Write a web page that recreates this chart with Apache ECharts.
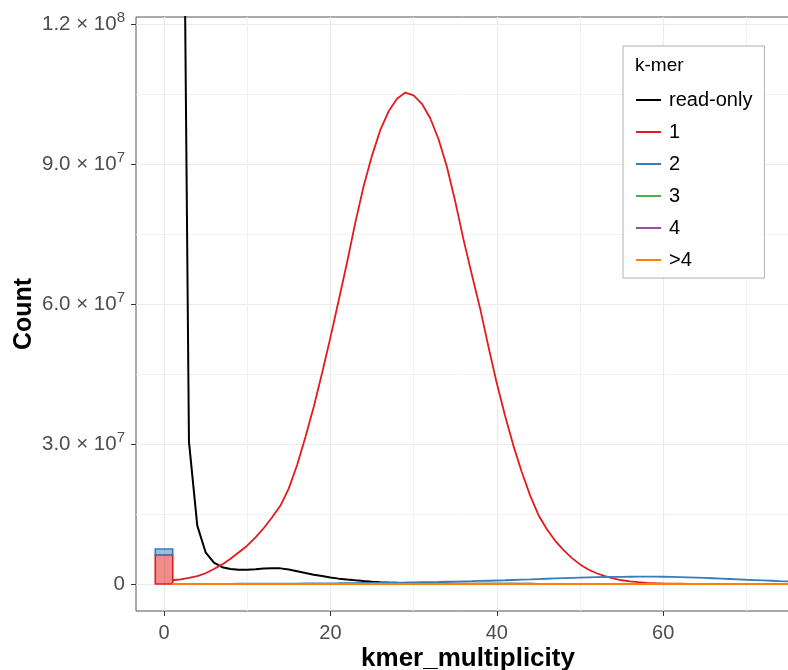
<!DOCTYPE html>
<html>
<head>
<meta charset="utf-8">
<title>k-mer spectrum</title>
<script src="https://cdn.jsdelivr.net/npm/echarts@6/dist/echarts.min.js"></script>
<style>
  html, body { margin: 0; padding: 0; background: #ffffff; }
  #chart { width: 788px; height: 670px; }
</style>
</head>
<body>
<div id="chart"></div>
<script>
// k-mer multiplicity (x) for the copy-number curves: 1 .. 77
const kmerMultiplicity = Array.from({ length: 77 }, (_, i) => i + 1);

// Counts, in millions of k-mers, one value per multiplicity
const readOnly = [
  600, 230, 30.5, 12.5, 6.8, 4.6, 3.6, 3.2, 3.05, 3.05,
  3.15, 3.3, 3.4, 3.35, 3.1, 2.75, 2.35, 2.0, 1.7, 1.4,
  1.15, 0.95, 0.78, 0.62, 0.5, 0.4, 0.32, 0.26, 0.21, 0.17,
  0.14, 0.12, 0.1, 0.09, 0.08, 0.07, 0.06, 0.05, 0.05, 0.04,
  0.04, 0.03, 0.03, 0.03, 0.02, 0.02, 0.02, 0.02, 0.02, 0.01,
  0.01, 0.01, 0.01, 0.01, 0.01, 0.01, 0.01, 0.01, 0.01, 0.01,
  0.01, 0.01, 0.01, 0.01, 0.01, 0.01, 0.01, 0.01, 0.01, 0.01,
  0.01, 0.01, 0.01, 0.01, 0.01, 0.01, 0.01
];
const copy1 = [
  0.8, 1.0, 1.3, 1.7, 2.3, 3.2, 4.2, 5.4, 6.8, 8.2,
  10.0, 12.0, 14.3, 16.8, 20.5, 25.5, 31.5, 38.0, 45.2, 52.8,
  60.8, 68.9, 77.5, 85.3, 91.8, 97.3, 101.3, 104.0, 105.3, 104.7,
  102.9, 99.8, 95.3, 89.4, 82.0, 73.8, 66.3, 59.0, 50.8, 43.0,
  36.0, 29.6, 24.0, 19.0, 14.8, 11.8, 9.3, 7.3, 5.6, 4.2,
  3.1, 2.3, 1.7, 1.2, 0.8, 0.55, 0.38, 0.26, 0.18, 0.12,
  0.08, 0.06, 0.04, 0.04, 0.03, 0.03, 0.03, 0.02, 0.02, 0.02,
  0.02, 0.02, 0.02, 0.02, 0.02, 0.02, 0.02
];
const copy2 = [
  0.02, 0.02, 0.02, 0.03, 0.03, 0.03, 0.04, 0.04, 0.05, 0.05,
  0.06, 0.06, 0.07, 0.08, 0.09, 0.1, 0.11, 0.12, 0.13, 0.15,
  0.16, 0.18, 0.2, 0.22, 0.24, 0.26, 0.28, 0.3, 0.32, 0.35,
  0.38, 0.41, 0.44, 0.48, 0.52, 0.56, 0.6, 0.65, 0.7, 0.75,
  0.8, 0.86, 0.92, 0.98, 1.05, 1.12, 1.19, 1.26, 1.32, 1.38,
  1.42, 1.46, 1.5, 1.52, 1.54, 1.55, 1.56, 1.56, 1.56, 1.55,
  1.53, 1.49, 1.44, 1.38, 1.31, 1.23, 1.15, 1.07, 0.99, 0.91,
  0.84, 0.77, 0.7, 0.62, 0.55, 0.48, 0.42
];
const copy3 = [
  0, 0, 0, 0, 0, 0, 0, 0, 0, 0, 0, 0, 0, 0, 0, 0, 0, 0, 0, 0,
  0, 0, 0, 0, 0, 0, 0, 0, 0, 0, 0, 0, 0, 0, 0, 0, 0, 0, 0, 0,
  0, 0, 0, 0, 0, 0, 0, 0, 0, 0, 0, 0, 0, 0, 0, 0, 0, 0, 0, 0,
  0, 0, 0, 0, 0, 0, 0, 0, 0, 0, 0, 0, 0, 0, 0, 0, 0
];
const copy4 = [
  0, 0, 0, 0, 0, 0, 0, 0, 0, 0, 0, 0, 0, 0, 0, 0, 0, 0, 0, 0,
  0, 0, 0, 0, 0, 0, 0, 0, 0, 0, 0, 0, 0, 0, 0, 0, 0, 0, 0, 0,
  0, 0, 0, 0, 0, 0, 0, 0, 0, 0, 0, 0, 0, 0, 0, 0, 0, 0, 0, 0,
  0, 0, 0, 0, 0, 0, 0, 0, 0, 0, 0, 0, 0, 0, 0, 0, 0
];
const copyOver4 = [
  0, 0, 0, 0, 0, 0, 0, 0, 0, 0, 0, 0, 0, 0, 0, 0, 0, 0, 0, 0,
  0, 0, 0, 0, 0, 0, 0, 0, 0, 0, 0, 0, 0, 0, 0, 0, 0, 0, 0, 0,
  0, 0, 0, 0, 0, 0, 0, 0, 0, 0, 0, 0, 0, 0, 0, 0, 0, 0, 0, 0,
  0, 0, 0, 0, 0, 0, 0, 0, 0, 0, 0, 0, 0, 0, 0, 0, 0
];

// Assembly-only k-mers, stacked at multiplicity 0 (millions)
const asmOnlyX = [0];
const asmOnlyCopy1 = [6.2];
const asmOnlyCopy2 = [1.3];

// Legend entries and axis ticks
const seriesNames = ['read-only', '1', '2', '3', '4', '>4'];
const xTickValues = [0, 20, 40, 60];
const xMinorValues = [10, 30, 50, 70];
const yTickValues = [0, 30, 60, 90, 120];
const yTickMantissa = ['0', '3.0', '6.0', '9.0', '1.2'];
const yTickExponent = ['', '7', '7', '7', '8'];
const yMinorValues = [15, 45, 75, 105];

const palette = ['#000000', '#E41A1C', '#377EB8', '#4DAF4A', '#984EA3', '#FF7F00'];
const FONT = '"Liberation Sans", Arial, Helvetica, sans-serif';
const BAR_WIDTH = 2.1; // in multiplicity units

const curveValues = [readOnly, copy1, copy2, copy3, copy4, copyOver4];

const lineSeries = seriesNames.map((name, i) => ({
  name: name,
  type: 'line',
  data: kmerMultiplicity.map((x, j) => [x, curveValues[i][j]]),
  showSymbol: false,
  symbol: 'none',
  clip: true,
  color: palette[i],
  lineStyle: { color: palette[i], width: i === 0 ? 2 : 1.8 },
  z: 3 + i
}));

function barSeries(name, rows, fill, stroke) {
  return {
    name: name,
    type: 'custom',
    data: rows,
    encode: { x: 0, y: [1, 2] },
    z: 2,
    renderItem: function (params, api) {
      const x = api.value(0);
      const lo = api.value(1);
      const hi = api.value(2);
      const p0 = api.coord([x - BAR_WIDTH / 2, hi]);
      const p1 = api.coord([x + BAR_WIDTH / 2, lo]);
      return {
        type: 'rect',
        shape: { x: p0[0], y: p0[1], width: p1[0] - p0[0], height: p1[1] - p0[1] },
        style: { fill: fill, stroke: stroke, lineWidth: 1.6 }
      };
    }
  };
}

const asmRows1 = asmOnlyX.map((x, i) => [x, 0, asmOnlyCopy1[i]]);
const asmRows2 = asmOnlyX.map((x, i) => [x, asmOnlyCopy1[i], asmOnlyCopy1[i] + asmOnlyCopy2[i]]);

const chart = echarts.init(document.getElementById('chart'), null, { renderer: 'canvas' });

chart.setOption({
  animation: false,
  backgroundColor: '#ffffff',
  textStyle: { fontFamily: FONT },
  title: {
    text: 'k-mer',
    left: 635,
    top: 56,
    textStyle: { fontFamily: FONT, fontSize: 19, fontWeight: 'normal', color: '#000000' },
    padding: 0,
    z: 20
  },
  legend: {
    data: seriesNames,
    orient: 'vertical',
    left: 623,
    top: 46,
    padding: [44, 12, 8, 13],
    itemWidth: 25,
    itemHeight: 2,
    itemGap: 12,
    icon: 'rect',
    backgroundColor: '#ffffff',
    borderColor: '#b0b0b0',
    borderWidth: 1,
    borderRadius: 0,
    selectedMode: false,
    textStyle: { fontFamily: FONT, fontSize: 20, lineHeight: 20, color: '#000000', padding: [0, 0, 0, 3] },
    z: 10
  },
  grid: {
    left: 136,
    right: -12,
    top: 17,
    bottom: 59,
    containLabel: false,
    outerBoundsMode: 'none',
    show: true,
    borderColor: '#555555',
    borderWidth: 1,
    backgroundColor: 'transparent'
  },
  xAxis: [
    {
      type: 'value',
      min: -3.365,
      max: 76.44,
      axisLine: { show: false, onZero: false },
      axisTick: { show: true, customValues: xTickValues, length: 5, lineStyle: { color: '#333333', width: 1 } },
      axisLabel: {
        customValues: xTickValues,
        margin: 12,
        fontSize: 20,
        color: '#4D4D4D',
        fontFamily: FONT
      },
      splitLine: { show: true, lineStyle: { color: '#EBEBEB', width: 1.2 } },
      name: 'kmer_multiplicity',
      nameLocation: 'middle',
      nameGap: 35,
      nameMoveOverlap: false,
      nameTextStyle: { fontFamily: FONT, fontSize: 26, fontWeight: 'bold', color: '#000000' }
    },
    {
      type: 'value',
      min: -3.365,
      max: 76.44,
      position: 'bottom',
      axisLine: { show: false, onZero: false },
      axisTick: { show: false, customValues: xMinorValues },
      axisLabel: { show: false },
      splitLine: { show: true, lineStyle: { color: '#F2F2F2', width: 1 } }
    }
  ],
  yAxis: [
    {
      type: 'value',
      min: -5.786,
      max: 121.5,
      axisLine: { show: false, onZero: false },
      axisTick: { show: true, customValues: yTickValues, length: 5, lineStyle: { color: '#333333', width: 1 } },
      axisLabel: {
        customValues: yTickValues,
        margin: 11,
        color: '#4D4D4D',
        fontFamily: FONT,
        formatter: function (v) {
          const i = yTickValues.indexOf(v);
          if (i < 0) return '';
          if (!yTickExponent[i]) return '{m|' + yTickMantissa[i] + '}';
          return '{m|' + yTickMantissa[i] + ' \u00D7 10}{e|' + yTickExponent[i] + '}';
        },
        rich: {
          m: { fontSize: 20.5, lineHeight: 28, color: '#4D4D4D', fontFamily: FONT },
          e: { fontSize: 15, lineHeight: 15, verticalAlign: 'top', color: '#4D4D4D', fontFamily: FONT }
        }
      },
      splitLine: { show: true, lineStyle: { color: '#EBEBEB', width: 1.2 } },
      name: 'Count',
      nameLocation: 'middle',
      nameGap: 99,
      nameMoveOverlap: false,
      nameTextStyle: { fontFamily: FONT, fontSize: 25, fontWeight: 'bold', color: '#000000' }
    },
    {
      type: 'value',
      min: -5.786,
      max: 121.5,
      axisLine: { show: false, onZero: false },
      axisTick: { show: false, customValues: yMinorValues },
      axisLabel: { show: false },
      splitLine: { show: true, lineStyle: { color: '#F2F2F2', width: 1 } }
    }
  ],
  series: [
    barSeries('asm-only copy 1', asmRows1, 'rgba(228,26,28,0.5)', '#E41A1C'),
    barSeries('asm-only copy 2', asmRows2, 'rgba(55,126,184,0.5)', '#377EB8')
  ].concat(lineSeries)
});
</script>
</body>
</html>
